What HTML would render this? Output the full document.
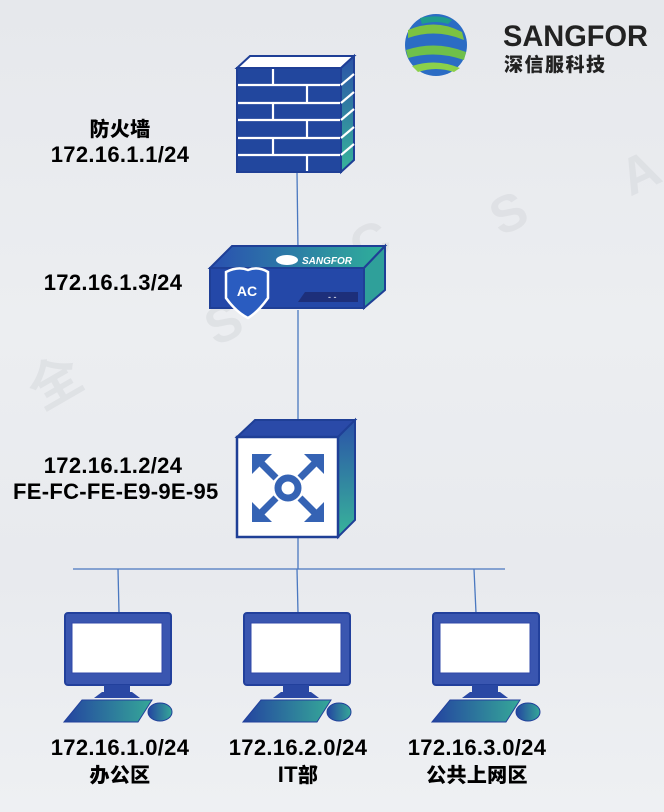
<!DOCTYPE html>
<html><head><meta charset="utf-8"><style>
body{margin:0;width:664px;height:812px;overflow:hidden;background:linear-gradient(180deg,#e6e8ec 0%,#eceef1 40%,#e8eaee 70%,#eef0f3 100%);font-family:"Liberation Sans","Noto Sans CJK SC",sans-serif;}
.t{position:absolute;font-weight:bold;font-size:22px;color:#000;text-align:center;line-height:26px;white-space:nowrap;letter-spacing:0.3px}
.t span{font-family:"Noto Sans CJK SC",sans-serif;font-weight:900;font-size:20px}
</style></head><body>
<svg width="664" height="812" style="position:absolute;left:0;top:0">
<defs>
<linearGradient id="sd" x1="0" y1="0" x2="0" y2="1"><stop offset="0" stop-color="#2b52a8"/><stop offset="1" stop-color="#38b59a"/></linearGradient>
<linearGradient id="kb" x1="0" y1="0" x2="1" y2="0"><stop offset="0" stop-color="#2444a0"/><stop offset="1" stop-color="#35a898"/></linearGradient>
<linearGradient id="ac" x1="0" y1="0" x2="1" y2="0"><stop offset="0" stop-color="#2a4fb0"/><stop offset="1" stop-color="#2fb09a"/></linearGradient>
<g id="pc">
<rect x="1" y="1" width="106" height="72" rx="3" fill="#3a56b0" stroke="#22409c" stroke-width="2"/>
<rect x="8" y="11" width="90" height="50" fill="#fff" stroke="#3048a8"/>
<rect x="40" y="73" width="26" height="8" fill="#2a48a4"/>
<polygon points="30,86 38,80 68,80 76,86" fill="#2a48a4"/>
<polygon points="0,110 18,88 88,88 74,110" fill="url(#kb)" stroke="#22409c"/>
<ellipse cx="96" cy="100" rx="12" ry="9" fill="url(#kb)" stroke="#22409c"/>
</g>
</defs>
<g fill="#d8dade" font-size="52" font-weight="bold" font-family="Liberation Sans,Noto Sans CJK SC,sans-serif" opacity="0.6">
<text x="28" y="400" transform="rotate(-30 55 380)">全</text>
<text x="205" y="340" transform="rotate(-25 225 320)">S</text>
<text x="350" y="260" transform="rotate(-25 370 240)">C</text>
<text x="490" y="230" transform="rotate(-25 510 210)">S</text>
<text x="620" y="190" transform="rotate(-25 640 170)">A</text>
</g>
<g stroke="#4a78c0" stroke-width="1.3" fill="none">
<line x1="297" y1="172" x2="298" y2="250"/>
<line x1="298" y1="310" x2="298" y2="420"/>
<line x1="298" y1="537" x2="298" y2="569"/>
<line x1="73" y1="569" x2="505" y2="569"/>
<line x1="118" y1="569" x2="119" y2="613"/>
<line x1="297" y1="569" x2="298" y2="613"/>
<line x1="474" y1="569" x2="476" y2="613"/>
</g>
<polygon points="237,68 250,56 354,56 341,68" fill="#fff" stroke="#1f3f96" stroke-width="2"/>
<polygon points="341,68 354,56 354,160 341,172" fill="url(#sd)" stroke="#1f3f96" stroke-width="2"/>
<rect x="237" y="68" width="104" height="104" fill="#22479e" stroke="#1f3f96" stroke-width="2"/>
<g stroke="#fff" stroke-width="2.2">
<line x1="238" y1="85" x2="340" y2="85"/><line x1="238" y1="103" x2="340" y2="103"/><line x1="238" y1="120" x2="340" y2="120"/><line x1="238" y1="138" x2="340" y2="138"/><line x1="238" y1="155" x2="340" y2="155"/>
<line x1="273" y1="69" x2="273" y2="85"/><line x1="307" y1="85" x2="307" y2="103"/><line x1="273" y1="103" x2="273" y2="120"/><line x1="307" y1="120" x2="307" y2="138"/><line x1="273" y1="138" x2="273" y2="155"/><line x1="307" y1="155" x2="307" y2="171"/>
<line x1="341" y1="85" x2="354" y2="74"/><line x1="341" y1="103" x2="354" y2="92"/><line x1="341" y1="120" x2="354" y2="109"/><line x1="341" y1="138" x2="354" y2="127"/><line x1="341" y1="155" x2="354" y2="144"/>
</g>
<polygon points="210,268 232,246 385,246 364,268" fill="url(#ac)" stroke="#1f3f96" stroke-width="2"/>
<polygon points="364,268 385,246 385,290 364,308" fill="#2fa09a" stroke="#1f3f96" stroke-width="2"/>
<rect x="210" y="268" width="154" height="40" fill="#2448a8" stroke="#1f3f96" stroke-width="2"/>
<polygon points="298,302 305,292 358,292 358,302" fill="#1d2f7a"/>
<text x="328" y="300" fill="#fff" font-size="9">- -</text>
<text x="302" y="264" fill="#fff" font-size="10" font-style="italic" font-weight="bold" font-family="Liberation Sans,sans-serif">SANGFOR</text>
<ellipse cx="287" cy="260" rx="11" ry="5" fill="#fff"/>
<path d="M226,272 Q238,266 248,270 Q258,266 268,272 L268,298 Q258,312 248,318 Q236,312 226,298Z" fill="#2a5cc0" stroke="#fff" stroke-width="2.5"/>
<text x="247" y="296" fill="#fff" font-size="14" font-weight="bold" text-anchor="middle" font-family="Liberation Sans,sans-serif">AC</text>
<polygon points="237,437 255,420 355,420 338,437" fill="#2a4aa8" stroke="#1f3f96" stroke-width="2"/>
<polygon points="338,437 355,420 355,520 338,537" fill="url(#sd)" stroke="#1f3f96" stroke-width="2"/>
<rect x="237" y="437" width="101" height="100" fill="#fff" stroke="#1f3f96" stroke-width="2.5"/>
<g stroke="#3563b4" stroke-width="7" fill="none">
<line x1="258" y1="460" x2="276" y2="478"/><line x1="318" y1="460" x2="300" y2="478"/><line x1="258" y1="516" x2="276" y2="498"/><line x1="318" y1="516" x2="300" y2="498"/>
<circle cx="288" cy="488" r="10"/>
</g>
<g fill="#3563b4">
<polygon points="252,454 272,454 252,474"/><polygon points="324,454 304,454 324,474"/><polygon points="252,522 272,522 252,502"/><polygon points="324,522 304,522 324,502"/>
</g>
<use href="#pc" x="64" y="612"/>
<use href="#pc" x="243" y="612"/>
<use href="#pc" x="432" y="612"/>
<g>
<circle cx="436" cy="45" r="31" fill="#2b6cc4"/>
<path d="M408,30 Q436,18 462,32 L464,40 Q436,28 408,38Z" fill="#7cc242"/>
<path d="M406,50 Q436,40 466,52 L464,60 Q436,50 408,58Z" fill="#6fc04a"/>
<path d="M412,66 Q436,58 460,68 L454,72 Q436,66 418,72Z" fill="#8bd04a"/>
<path d="M420,18 Q440,14 452,20 L448,24 Q436,20 422,24Z" fill="#1f9c8c"/>
</g>
<text x="503" y="46" fill="#222" font-size="30" font-weight="bold" font-family="Liberation Sans,sans-serif" textLength="145" lengthAdjust="spacingAndGlyphs">SANGFOR</text>
<text x="504" y="71" fill="#222" font-size="19" font-weight="900" font-family="Noto Sans CJK SC,sans-serif" textLength="101">深信服科技</text>
</svg>
<div class="t" style="left:20px;top:115px;width:200px"><span>防火墙</span><br>172.16.1.1/24</div>
<div class="t" style="left:13px;top:270px;width:200px">172.16.1.3/24</div>
<div class="t" style="left:13px;top:453px;width:200px">172.16.1.2/24<br>FE-FC-FE-E9-9E-95</div>
<div class="t" style="left:20px;top:735px;width:200px">172.16.1.0/24<br><span>办公区</span></div>
<div class="t" style="left:198px;top:735px;width:200px">172.16.2.0/24<br>IT<span>部</span></div>
<div class="t" style="left:377px;top:735px;width:200px">172.16.3.0/24<br><span>公共上网区</span></div>
</body></html>
